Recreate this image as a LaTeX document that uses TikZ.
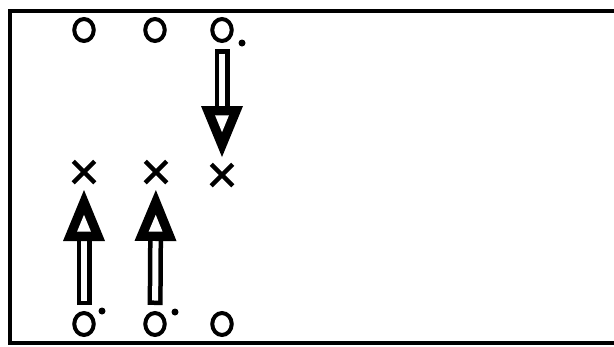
\documentclass[tikz,border=0pt]{standalone}
\usetikzlibrary{calc,shapes.misc,shapes.geometric}
% hollow shaft with a heavy open head, from node #1 towards node #2
\newcommand{\pusharrow}[2]{%
  \coordinate (tip) at ($(#2)!18pt!(#1)$);
  \coordinate (base) at ($(#2)!69pt!(#1)$);
  \coordinate (mid) at ($(base)!14pt!(tip)$);
  \coordinate (bl) at ($(base)!21pt!90:(tip)$);
  \coordinate (br) at ($(base)!21pt!-90:(tip)$);
  \draw[line width=15pt, shorten <=19pt] (#1.center) -- (base);
  \draw[white, line width=6pt, shorten <=23.5pt] (#1.center) -- (base);
  \fill (bl) -- (tip) -- (br) -- cycle;
  \fill[white] ($(mid)!0.33!(bl)$) -- ($(mid)!0.33!(tip)$) -- ($(mid)!0.33!(br)$) -- cycle;
}
\begin{document}
\begin{tikzpicture}[x=1pt,y=-1pt,
    ring/.style={ellipse, draw, line width=4pt, minimum width=19.5pt, minimum height=22pt, inner sep=0pt},
    spot/.style={circle, fill, minimum size=7pt, inner sep=0pt},
    crossmark/.style={cross out, draw, line width=4.5pt, minimum size=17pt, inner sep=0pt}]
  \useasboundingbox (0,0) rectangle (614,346);
  % frame, open at the right
  \draw[line width=3.5pt] (630,11) -- (10,11) -- (10,343) -- (630,343);
  % upper row
  \node[ring] (t1) at (84,30) {};
  \node[ring] (t2) at (155,30) {};
  \node[ring] (t3) at (222,30) {};
  \node[spot] (d3) at (242,43) {};
  % crosses
  \node[crossmark] (x1) at (84,172) {};
  \node[crossmark] (x2) at (156,172) {};
  \node[crossmark] (x3) at (222,175) {};
  % lower row
  \node[ring] (b1) at (84,324) {};
  \node[ring] (b2) at (155,324) {};
  \node[ring] (b3) at (222,324) {};
  \node[spot] (d1) at (102,311) {};
  \node[spot] (d2) at (175,312) {};
  % moves
  \pusharrow{t3}{x3}
  \pusharrow{b1}{x1}
  \pusharrow{b2}{x2}
\end{tikzpicture}
\end{document}
